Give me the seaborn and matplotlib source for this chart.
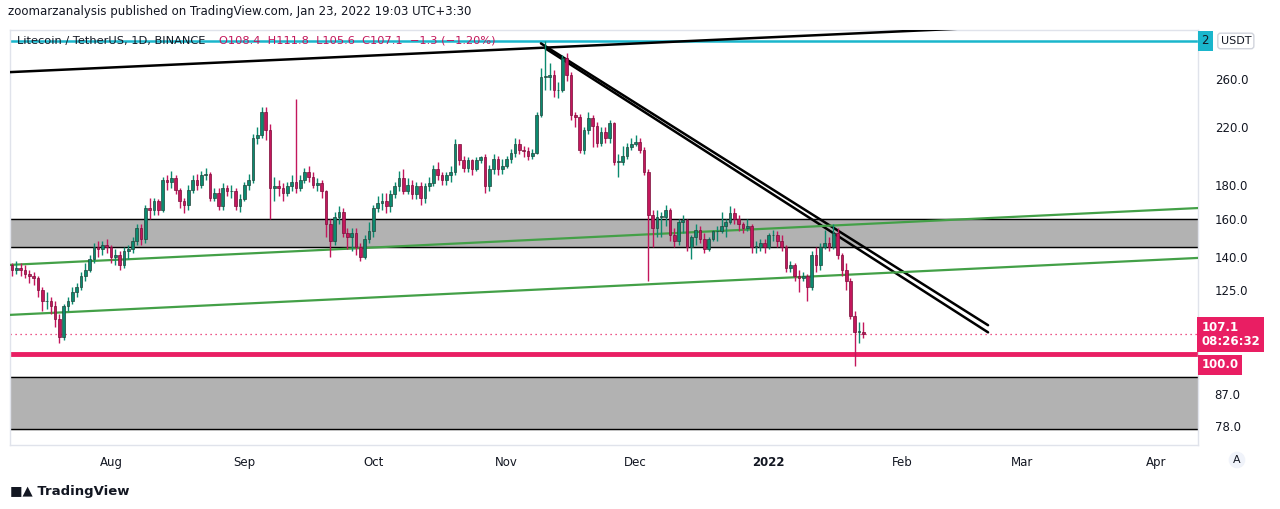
import numpy as np
import pandas as pd
import matplotlib
matplotlib.use("Agg")
import matplotlib.pyplot as plt
import seaborn as sns

# daily LTC/USDT candles, Jul 9 2021 .. Jan 23 2022
first_open = 136
closes = [
    134, 135, 134, 132, 131, 130, 125, 120, 120, 118, 113, 106, 118, 120, 124, 126, 131, 134, 139, 145, 144, 146, 145,
    140, 141, 136, 143, 144, 148, 155, 149, 166, 165, 170, 165, 183, 182, 184, 177, 170, 168, 177, 183, 180, 186, 187, 172, 175, 167, 178, 176, 176, 167, 171,
    180, 183, 212, 214, 232, 218, 178, 179, 178, 175, 179, 182, 178, 183, 188, 185, 180, 181, 176, 157, 148, 161, 164, 152, 150, 152, 145, 140, 149, 153,
    166, 169, 170, 167, 174, 179, 184, 176, 180, 174, 179, 172, 179, 181, 190, 186, 183, 186, 188, 207, 196, 191, 196, 190, 196, 198, 179, 190, 197, 190, 192,
    197, 201, 207, 203, 202, 199, 201, 229, 262, 262, 263, 250, 250, 279, 263, 229, 228, 203, 218, 227, 221, 208, 216, 212, 223, 195, 195, 199, 205, 207,
    209, 203, 188, 162, 155, 161, 161, 165, 151, 148, 158, 159, 145, 150, 154, 149, 144, 149, 153, 153, 156, 158, 163, 160, 157, 155, 156, 145, 145, 147, 145,
    151, 151, 148, 145, 135, 136, 131, 130, 131, 126, 141, 136, 145, 147, 145, 152, 141, 134, 129, 114, 108, 108, 107.1,
]
highs = [
    137, 138, 137, 136, 134, 133, 131, 126, 124, 122, 120, 115, 119, 122, 126, 128, 133, 137, 141, 147, 148, 148, 149,
    146, 144, 143, 145, 146, 150, 157, 157, 168, 172, 172, 171, 185, 186, 189, 186, 178, 172, 180, 186, 187, 189, 191, 188, 178, 178, 181, 180, 180, 178, 174,
    182, 187, 215, 220, 236, 236, 222, 185, 183, 181, 182, 186, 242, 186, 191, 192, 188, 184, 183, 177, 160, 164, 167, 166, 155, 155, 155, 147, 151, 158,
    168, 173, 175, 175, 177, 182, 189, 190, 184, 183, 182, 182, 181, 185, 193, 195, 188, 188, 192, 211, 206, 199, 198, 197, 198, 199, 200, 193, 200, 199, 197,
    199, 204, 212, 211, 206, 205, 204, 232, 270, 296, 275, 268, 257, 282, 284, 266, 232, 230, 220, 232, 229, 224, 220, 220, 225, 224, 200, 206, 208, 212,
    214, 212, 205, 190, 165, 165, 164, 168, 166, 155, 160, 162, 160, 151, 157, 156, 152, 150, 154, 156, 164, 160, 167, 166, 162, 158, 160, 157, 148, 149, 149,
    152, 154, 153, 151, 146, 138, 137, 134, 133, 132, 143, 145, 147, 154, 150, 157, 155, 142, 137, 130, 116, 111.8, 111.8,
]
lows = [
    131, 132, 131, 130, 128, 127, 122, 116, 117, 115, 110, 104, 105, 116, 119, 122, 125, 129, 133, 137, 140, 141, 142,
    137, 136, 134, 135, 139, 142, 146, 146, 147, 160, 162, 162, 164, 177, 178, 174, 166, 163, 165, 175, 177, 178, 183, 170, 170, 165, 165, 173, 172, 165, 164,
    170, 177, 181, 207, 212, 210, 160, 170, 173, 170, 173, 176, 175, 176, 181, 182, 178, 176, 172, 150, 140, 146, 157, 150, 144, 143, 141, 138, 139, 147,
    150, 164, 165, 163, 164, 172, 176, 174, 174, 171, 171, 168, 169, 176, 179, 183, 180, 180, 182, 186, 193, 188, 188, 186, 189, 194, 175, 176, 187, 186, 187,
    191, 194, 198, 200, 198, 196, 197, 200, 228, 250, 250, 244, 243, 248, 258, 225, 220, 201, 200, 215, 205, 205, 206, 208, 208, 193, 185, 193, 197, 203,
    206, 201, 186, 129, 145, 150, 150, 156, 148, 145, 146, 152, 143, 139, 146, 147, 142, 143, 148, 148, 152, 150, 157, 157, 153, 152, 153, 142, 142, 143, 142,
    144, 148, 145, 143, 133, 133, 129, 124, 129, 120, 125, 133, 134, 144, 143, 144, 139, 131, 125, 113, 96, 104, 105.6,
]
last_date = "2022-01-23"

# drawn levels / trend lines (price values)
zone_mid = (145, 160)
zone_low = (77, 92.3)
support = 100.0
cyan_level = 296.5
top_line = (("2021-07-08", 266), ("2022-02-17", 310))
down_line_a = (("2021-11-09", 294), ("2022-02-21", 110.5))
down_line_b = (("2021-11-10", 289), ("2022-02-21", 107.8))
green_up = (("2021-07-08", 136.2), ("2022-04-11", 166))
green_low = (("2021-07-08", 114.5), ("2022-04-11", 139.6))

y_ticks = [260, 220, 180, 160, 140, 125, 109, 87, 78]
y_labels = ["260.0", "220.0", "180.0", "160.0", "140.0", "125.0", "100.0", "87.0", "78.0"]

sns.set_theme(style="white")
UP, DOWN = "#0b8a6f", "#c3175c"

dates = pd.date_range(end=last_date, periods=len(closes), freq="D")
opens = [first_open] + closes[:-1]
df = pd.DataFrame({"date": dates, "open": opens, "high": highs, "low": lows, "close": closes})
df["up"] = df["close"] >= df["open"]

fig = plt.figure(figsize=(12.8, 5.09), dpi=100)
ax = fig.add_axes([10 / 1280, 64 / 509, 1188 / 1280, 415 / 509])
ax.set_yscale("log")
ax.set_ylim(72.9, 308)
ax.set_xlim(pd.Timestamp("2021-07-08 12:00"), pd.Timestamp("2022-04-10 20:00"))

ax.axhspan(*zone_mid, color="#b2b2b2", zorder=0)
ax.axhline(zone_mid[0], color="black", lw=1, zorder=1)
ax.axhline(zone_mid[1], color="black", lw=1, zorder=1)
ax.axhspan(*zone_low, color="#b2b2b2", zorder=0)
ax.axhline(zone_low[0], color="black", lw=1, zorder=1)
ax.axhline(zone_low[1], color="black", lw=1, zorder=1)
ax.axhline(cyan_level, color="#1ab6cc", lw=1.8, zorder=1)
ax.axhline(support, color="#e91e63", lw=3.5, zorder=2)
ax.axhline(closes[-1], color="#e91e63", lw=0.9, ls=(0, (1, 3)), zorder=2)

for seg, col, lw in [(top_line, "black", 1.8), (down_line_a, "black", 1.8), (down_line_b, "black", 1.8),
                     (green_up, "#43a047", 1.6), (green_low, "#43a047", 1.6)]:
    ax.plot(pd.to_datetime([seg[0][0], seg[1][0]]), [seg[0][1], seg[1][1]], color=col, lw=lw, zorder=3)

for is_up, col in [(True, UP), (False, DOWN)]:
    sub = df[df["up"] == is_up]
    ax.vlines(sub["date"], sub["low"], sub["high"], color=col, lw=1, zorder=4)
    bottom = np.minimum(sub["open"], sub["close"])
    height = np.abs(sub["close"] - sub["open"]).clip(lower=0.4)
    ax.bar(sub["date"], height, bottom=bottom, width=0.62, color=col,
           edgecolor="#24453c" if is_up else "#7a0f3a", linewidth=0.5, zorder=5)

ax.set_xlabel("")
ax.set_ylabel("")
ax.yaxis.tick_right()
ax.set_yticks(y_ticks)
ax.set_yticklabels(y_labels, fontsize=8.5, color="#131722")
ax.yaxis.set_minor_locator(matplotlib.ticker.NullLocator())
ax.tick_params(axis="y", length=0, pad=12)

months = pd.to_datetime(["2021-08-01", "2021-09-01", "2021-10-01", "2021-11-01", "2021-12-01",
                         "2022-01-01", "2022-02-01", "2022-03-01", "2022-04-01"])
ax.set_xticks(months)
ax.set_xticklabels(["Aug", "Sep", "Oct", "Nov", "Dec", "2022", "Feb", "Mar", "Apr"], fontsize=8.5, color="#131722")
ax.get_xticklabels()[5].set_fontweight("bold")
ax.tick_params(axis="x", length=0, pad=8)
for s in ax.spines.values():
    s.set_color("#e0e3eb")
    s.set_linewidth(1)
ax.grid(False)

# price labels on the right scale
tr = ax.get_yaxis_transform()
ax.text(1.003, closes[-1], "107.1\n08:26:32", transform=tr, ha="left", va="center", fontsize=8.5,
        fontweight="bold", color="white", linespacing=1.1,
        bbox=dict(boxstyle="square,pad=0.35", fc="#e91e63", ec="none"), zorder=10, clip_on=False)
ax.text(1.003, 96.3, "100.0", transform=tr, ha="left", va="center", fontsize=8.5, fontweight="bold",
        color="white", bbox=dict(boxstyle="square,pad=0.3", fc="#e91e63", ec="none"), zorder=10, clip_on=False)
ax.text(1.003, cyan_level, "2", transform=tr, ha="left", va="center", fontsize=8.5, color="#131722",
        bbox=dict(boxstyle="square,pad=0.3", fc="#1ab6cc", ec="none"), zorder=10, clip_on=False)
ax.text(1.019, cyan_level, "USDT", transform=tr, ha="left", va="center", fontsize=8, color="#131722",
        bbox=dict(boxstyle="round,pad=0.25", fc="white", ec="#d1d4dc"), zorder=11, clip_on=False)

fig.text(8 / 1280, 1 - 12 / 509, "zoomarzanalysis published on TradingView.com, Jan 23, 2022 19:03 UTC+3:30",
         fontsize=8.5, color="#131722", va="center")
ax.text(0.006, cyan_level, "Litecoin / TetherUS, 1D, BINANCE", transform=tr,
        fontsize=8.2, color="#131722", va="center", zorder=8)
ax.text(0.176, cyan_level, "O108.4  H111.8  L105.6  C107.1  \u22121.3 (\u22121.20%)", transform=tr,
        fontsize=8.2, color="#c3175c", va="center", zorder=8)
fig.text(1237 / 1280, 1 - 460 / 509, "A", fontsize=8, color="#131722", ha="center", va="center",
         bbox=dict(boxstyle="circle,pad=0.3", fc="#f0f3fa", ec="none"))
fig.text(10 / 1280, 1 - 492 / 509, "\u25a0\u25b2 TradingView", fontsize=9.5, color="#131722", va="center",
         fontweight="bold")

fig.savefig("out.png", dpi=100, facecolor="white")
